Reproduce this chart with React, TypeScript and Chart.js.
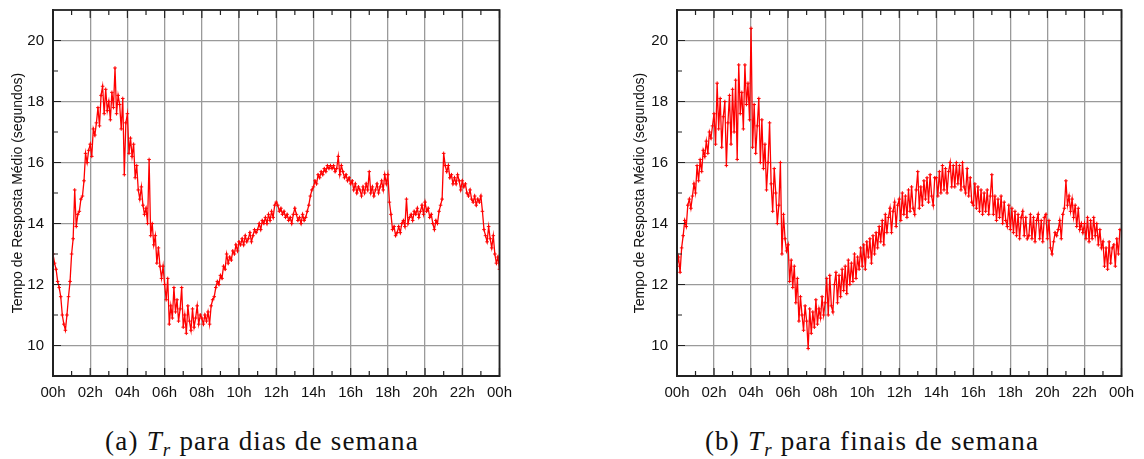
import React, { useEffect, useRef } from "react";
import { Chart, registerables } from "chart.js";

Chart.register(...registerables);

// Tempo de resposta médio (s), one sample every 5 minutes, one row per hour (00h..23h) + final 24h value
const weekdayValues = [
  13.0, 12.7, 12.5, 12.1, 11.9, 11.6, 11.0, 10.7, 10.5, 11.0, 11.6, 12.1,
  13.0, 13.5, 15.1, 13.9, 14.3, 14.4, 14.8, 14.9, 15.4, 16.3, 16.0, 16.4,
  16.6, 16.2, 17.1, 16.9, 17.3, 17.8, 17.2, 18.2, 18.5, 17.6, 18.4, 17.7,
  18.0, 17.4, 18.3, 17.8, 19.1, 17.6, 18.2, 17.9, 17.1, 18.1, 15.6, 17.3,
  17.6, 16.3, 16.8, 16.2, 16.6, 15.5, 15.9, 15.1, 14.8, 15.2, 14.6, 14.3,
  14.5, 14.0, 16.1, 13.6, 14.0, 13.3, 13.6, 12.7, 13.2, 12.6, 12.2, 12.6,
  12.0, 11.5, 12.2, 10.7, 11.3, 10.9, 11.9, 11.1, 11.5, 10.8, 11.2, 11.9,
  10.6, 11.0, 10.4, 11.3, 10.8, 10.5, 11.2, 10.6, 10.9, 11.3, 10.7, 11.0,
  10.9, 10.7, 11.0, 10.8, 11.1, 10.7, 11.3, 11.5, 11.6, 11.9, 12.1, 12.0,
  12.3, 12.2, 12.6, 12.5, 13.0, 12.7, 12.9, 12.8, 13.1, 13.0, 13.3, 13.1,
  13.4, 13.3, 13.5, 13.3, 13.6, 13.4, 13.5, 13.7, 13.4, 13.6, 13.8, 13.7,
  13.8, 14.0, 13.8, 14.1, 14.0, 14.2, 14.0, 14.3, 14.1, 14.4, 14.2, 14.6,
  14.7, 14.6, 14.4, 14.5, 14.3, 14.4, 14.2, 14.3, 14.1, 14.2, 14.0, 14.3,
  14.5, 14.3, 14.1, 14.2, 14.0, 14.3, 14.1, 14.2, 14.4, 14.6, 14.9, 15.1,
  15.2, 15.4, 15.3, 15.6, 15.5, 15.7, 15.6, 15.8, 15.7, 15.9, 15.8, 15.9,
  15.8, 15.9, 15.7, 15.8, 16.2, 15.6, 15.9, 15.7, 15.5, 15.6, 15.4, 15.5,
  15.3, 15.4, 15.1, 15.3, 15.0, 15.2, 15.1, 14.9, 15.2, 15.0, 15.3, 15.1,
  15.7, 15.0, 15.2, 14.9, 15.1, 15.3, 15.0, 15.2, 15.4, 15.1, 15.6, 15.3,
  15.6, 14.7, 14.3, 13.8, 13.9, 13.6, 13.7, 13.9, 13.7, 14.0, 14.1, 13.9,
  14.8, 14.0, 14.2, 14.3, 14.1, 14.4, 14.3, 14.5, 14.2, 14.4, 14.6, 14.3,
  14.7, 14.4, 14.5, 14.2, 14.3, 14.0, 13.8, 14.1, 14.0, 14.4, 14.6, 14.8,
  16.3, 15.9, 15.7, 15.9, 15.5, 15.6, 15.3, 15.5, 15.3, 15.6, 15.4, 15.1,
  15.4, 15.2, 15.3, 15.0, 14.9, 15.1, 14.8, 14.7, 14.9, 14.6, 14.8, 14.7,
  14.9, 14.4, 13.8, 13.6, 13.4, 13.9, 13.5, 13.2, 13.6, 13.0, 12.7, 12.9,
  12.5,
];

const weekendValues = [
  12.6, 12.9, 12.4, 13.2, 13.6, 14.1, 13.9, 14.6, 14.8, 14.5, 14.9, 15.3,
  15.0, 15.9, 15.4, 16.1, 15.7, 16.4, 16.2, 16.7, 16.3, 17.0, 16.8, 17.2,
  17.6, 16.6, 18.6, 17.1, 18.1, 16.5, 17.5, 18.0, 15.9, 17.3, 18.2, 16.6,
  18.4, 17.0, 18.7, 16.1, 19.2, 17.6, 18.3, 17.1, 19.2, 17.9, 18.6, 17.4,
  20.4, 16.5, 17.9, 16.3, 17.2, 18.1, 16.0, 17.4, 15.8, 16.6, 15.1, 16.0,
  17.3, 15.3, 14.4, 15.8, 15.0, 14.0, 14.6, 16.0, 13.0, 14.3, 13.5, 13.1,
  13.3, 12.1, 12.8, 11.9, 12.6, 11.4, 12.2, 10.8, 11.6, 11.0, 10.5, 11.3,
  10.8, 9.9, 11.2, 10.4, 11.1, 10.6, 11.5, 10.7, 11.2, 10.9, 11.6, 11.0,
  11.4, 12.2, 11.0, 12.3, 11.3, 11.1, 12.0, 12.4, 11.4, 12.3, 11.6, 12.5,
  11.8, 12.6, 11.7, 12.8, 12.0, 12.7, 12.1, 13.0, 12.2, 12.9, 12.5, 13.2,
  12.6, 13.3, 12.5, 13.4, 12.9, 13.5, 12.7, 13.6, 13.0, 13.7, 13.2, 13.9,
  13.4, 14.1, 13.3, 14.3, 13.7, 14.2, 14.5, 13.7, 14.4, 14.7, 13.9, 14.6,
  14.8, 14.1, 15.0, 14.3, 14.9, 14.2, 15.1, 14.4, 15.2, 14.5, 14.3, 15.1,
  15.7, 14.5, 15.2, 14.6, 15.4, 14.8, 15.5, 14.7, 15.6, 14.9, 14.6, 15.5,
  15.5, 14.9, 15.7, 15.0, 15.9, 15.1, 15.8, 15.0, 15.7, 16.0, 15.2, 15.9,
  15.2, 16.0, 15.3, 15.9, 15.1, 16.0, 15.2, 15.0, 15.8, 14.9, 15.5, 14.7,
  14.6, 15.3, 14.5, 15.2, 14.4, 15.1, 14.3, 15.0, 14.4, 15.1, 14.3, 14.9,
  15.6, 14.3, 14.9, 14.1, 14.8, 14.2, 14.9, 14.0, 14.7, 14.1, 13.9, 14.6,
  13.8, 14.5, 13.7, 14.4, 13.6, 14.3, 13.5, 14.2, 14.4, 13.6, 14.2, 13.5,
  13.6, 14.3, 13.5, 14.2, 13.4, 14.1, 14.3, 13.5, 14.1, 13.4, 14.2, 14.3,
  13.5, 14.1, 13.2, 13.0, 13.4, 13.7, 13.6, 13.8, 14.1, 13.5, 14.3, 14.5,
  15.4, 14.6, 14.9, 14.4, 14.8, 14.2, 14.6, 13.9, 14.5, 13.8, 14.0, 13.7,
  14.0, 13.5, 14.2, 13.4, 14.1, 13.5, 14.2, 13.6, 14.0, 13.3, 13.8, 13.2,
  13.4, 12.6, 13.2, 12.5, 13.4, 12.7, 13.2, 13.3, 12.6, 13.5, 13.0, 13.8,
  13.8,
];

const SAMPLES_PER_HOUR = 12;
const xTickValues = [0, 2, 4, 6, 8, 10, 12, 14, 16, 18, 20, 22, 24];
const xTickLabels = ["00h", "02h", "04h", "06h", "08h", "10h", "12h", "14h", "16h", "18h", "20h", "22h", "00h"];
const xMinorTicks = [1, 3, 5, 7, 9, 11, 13, 15, 17, 19, 21, 23];
const yTickValues = [10, 12, 14, 16, 18, 20];
const yMinorTicks = [11, 13, 15, 17, 19];
const yTitle = "Tempo de Resposta Médio (segundos)";

const framePlugin = {
  id: "frameTicks",
  afterDraw(chart: any) {
    const { ctx, chartArea, scales } = chart;
    const { left, right, top, bottom } = chartArea;
    const x = scales.x;
    const y = scales.y;
    ctx.save();
    ctx.strokeStyle = "#222";
    ctx.lineWidth = 1.2;
    ctx.beginPath();
    for (const v of xTickValues) {
      const px = x.getPixelForValue(v);
      ctx.moveTo(px, bottom);
      ctx.lineTo(px, bottom - 8);
      ctx.moveTo(px, top);
      ctx.lineTo(px, top + 8);
    }
    for (const v of xMinorTicks) {
      const px = x.getPixelForValue(v);
      ctx.moveTo(px, bottom);
      ctx.lineTo(px, bottom - 5);
      ctx.moveTo(px, top);
      ctx.lineTo(px, top + 5);
    }
    for (const v of yTickValues) {
      const py = y.getPixelForValue(v);
      ctx.moveTo(left, py);
      ctx.lineTo(left + 8, py);
    }
    for (const v of yMinorTicks) {
      const py = y.getPixelForValue(v);
      ctx.moveTo(left, py);
      ctx.lineTo(left + 5, py);
    }
    ctx.stroke();
    ctx.lineWidth = 1.8;
    ctx.strokeRect(left, top, right - left, bottom - top);
    ctx.restore();
  },
};

function Panel({ values, left, yAxisWidth, padRight }: { values: number[]; left: number; yAxisWidth: number; padRight: number }) {
  const ref = useRef<HTMLCanvasElement | null>(null);
  useEffect(() => {
    if (!ref.current) return;
    const points = values.map((v, i) => ({ x: i / SAMPLES_PER_HOUR, y: v }));
    const chart = new Chart(ref.current, {
      type: "line",
      data: {
        datasets: [
          {
            data: points,
            borderColor: "#ff0000",
            backgroundColor: "#ff0000",
            borderWidth: 1.3,
            pointStyle: "cross",
            pointRadius: 1.8,
            pointBorderWidth: 1,
            tension: 0,
          },
        ],
      },
      options: {
        animation: false,
        responsive: false,
        maintainAspectRatio: false,
        layout: { padding: { top: 1, right: padRight, bottom: 0, left: 0 } },
        plugins: { legend: { display: false }, tooltip: { enabled: false } },
        scales: {
          x: {
            type: "linear",
            min: 0,
            max: 24,
            afterBuildTicks: (s: any) => {
              s.ticks = xTickValues.map((v) => ({ value: v }));
            },
            afterFit: (s: any) => {
              s.height = 34;
            },
            ticks: {
              autoSkip: false,
              maxRotation: 0,
              padding: 8,
              color: "#111",
              font: { family: "'Liberation Sans', Arial, sans-serif", size: 15 },
              callback: (val: any) => {
                const idx = xTickValues.indexOf(Number(val));
                return idx >= 0 ? xTickLabels[idx] : "";
              },
            },
            grid: { color: "#9a9a9a", lineWidth: 1.3, drawTicks: false },
            border: { color: "#222", width: 2 },
          },
          y: {
            type: "linear",
            min: 9,
            max: 21,
            afterBuildTicks: (s: any) => {
              s.ticks = yTickValues.map((v) => ({ value: v }));
            },
            afterFit: (s: any) => {
              s.width = yAxisWidth;
            },
            ticks: {
              padding: 9,
              color: "#111",
              font: { family: "'Liberation Sans', Arial, sans-serif", size: 15 },
            },
            grid: { color: "#9a9a9a", lineWidth: 1.3, drawTicks: false },
            border: { color: "#222", width: 2 },
            title: {
              display: true,
              text: yTitle,
              color: "#111",
              padding: { top: 10, bottom: 0 },
              font: { family: "'Liberation Sans', Arial, sans-serif", size: 14 },
            },
          },
        },
      },
      plugins: [framePlugin],
    });
    return () => chart.destroy();
  }, [values, yAxisWidth, padRight]);
  return (
    <canvas
      ref={ref}
      width={520}
      height={418}
      style={{ position: "absolute", left, top: -8, width: 520, height: 418 }}
    />
  );
}

const captionStyle: React.CSSProperties = {
  position: "absolute",
  top: 425,
  width: 500,
  textAlign: "center",
  fontFamily: "'Liberation Serif', 'DejaVu Serif', serif",
  fontSize: 27,
  letterSpacing: "1.2px",
  lineHeight: "32px",
  color: "#111",
  whiteSpace: "nowrap",
};

export default function App() {
  return (
    <div style={{ position: "fixed", left: 0, top: 0, width: 1144, height: 459, background: "#fff", overflow: "hidden" }}>
      <Panel values={weekdayValues} left={0} yAxisWidth={53} padRight={18} />
      <Panel values={weekendValues} left={622} yAxisWidth={55} padRight={15} />
      <div style={{ ...captionStyle, left: 262 - 250 }}>
        (a) <i>T</i><sub style={{ fontSize: 19, fontStyle: "italic" }}>r</sub> para dias de semana
      </div>
      <div style={{ ...captionStyle, left: 872 - 250 }}>
        (b) <i>T</i><sub style={{ fontSize: 19, fontStyle: "italic" }}>r</sub> para finais de semana
      </div>
    </div>
  );
}
